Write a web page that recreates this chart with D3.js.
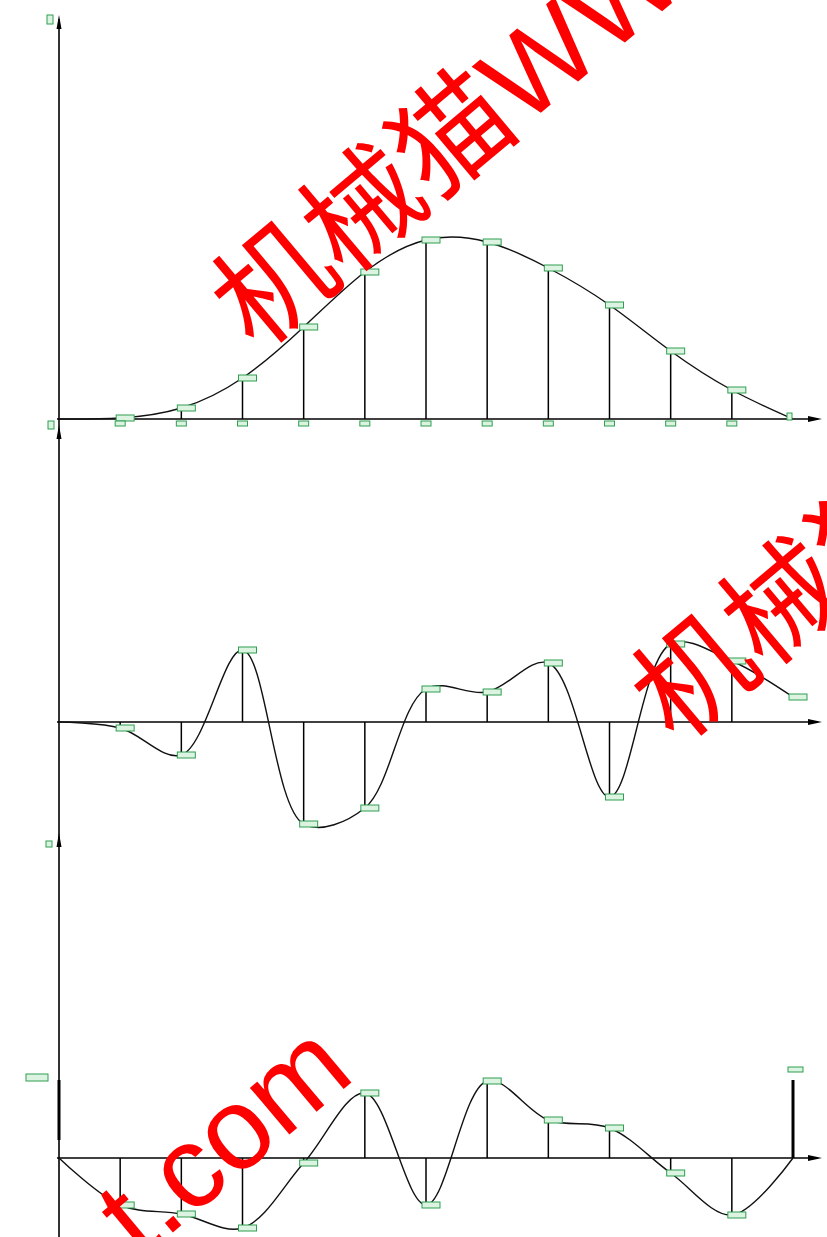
<!DOCTYPE html>
<html lang="zh">
<head>
<meta charset="utf-8">
<title>waves</title>
<script src="https://cdn.jsdelivr.net/npm/d3@7"></script>
<style>
  body { margin: 0; background: #fff; }
  svg { display: block; }
</style>
</head>
<body>
<script>
var w = 827, h = 1237;

// sample points 0..12 along each horizontal axis
var steps = d3.range(13);

// heights (same unit in all three panels)
var wave1 = [0, 1, 11, 41, 92, 147, 179, 177, 151, 114, 68, 29, 0];
var wave2 = [0, -6, -33, 72, -102, -86, 33, 30, 59, -75, 78, 61, 25];
var wave3 = [0, -47, -56, -70, -5, 65, -47, 77, 38, 30, -15, -57, 0];
// the two thick end spikes of the third panel (at step 0 and step 12)
var spikeSteps3 = [0, 12];
var spikes3 = [78, 78];

// watermark texts
var marks = ["机械猫WWW", "机械猫", "t.com"];

var svg = d3.select("body").append("svg")
	.attr("width", w).attr("height", h);

var x = d3.scaleLinear().domain([0, 12]).range([59, 793]);

var panels = [
	{ data: wave1, base: 419, top: 15, bottom: 432, curve: d3.curveNatural },
	{ data: wave2, base: 722, top: 425, bottom: 840, curve: d3.curveCatmullRom.alpha(0.5) },
	{ data: wave3, base: 1158, top: 833, bottom: 1237, curve: d3.curveCatmullRom.alpha(0.5) }
];

var green = "#2e9e50", greenFill = "#dcf3e2";

panels.forEach(function(p, k) {
	var y = d3.scaleLinear().domain([0, 100]).range([p.base, p.base - 100]);
	var g = svg.append("g");

	// vertical axis + arrow
	g.append("line")
		.attr("x1", x(0)).attr("x2", x(0))
		.attr("y1", p.bottom).attr("y2", p.top + 4)
		.attr("stroke", "#000").attr("stroke-width", 1.6);
	g.append("path")
		.attr("d", "M" + (x(0)) + "," + p.top + "l-2.5,14l5,0z")
		.attr("fill", "#000");

	// horizontal axis + arrow
	g.append("line")
		.attr("x1", x(0) - 2).attr("x2", 818)
		.attr("y1", p.base).attr("y2", p.base)
		.attr("stroke", "#000").attr("stroke-width", 1.6);
	g.append("path")
		.attr("d", "M822," + p.base + "l-14,-3l0,6z")
		.attr("fill", "#000");

	// stems
	g.selectAll("line.stem")
		.data(steps.slice(1, 12))
		.enter().append("line")
		.attr("class", "stem")
		.attr("x1", function(d) { return x(d); })
		.attr("x2", function(d) { return x(d); })
		.attr("y1", p.base)
		.attr("y2", function(d) { return y(p.data[d]); })
		.attr("stroke", "#000").attr("stroke-width", 1.5);

	// smooth curve
	var line = d3.line()
		.x(function(d, i) { return x(i); })
		.y(function(d) { return y(d); })
		.curve(p.curve);
	g.append("path")
		.datum(p.data)
		.attr("d", line)
		.attr("fill", "none")
		.attr("stroke", "#111").attr("stroke-width", 1.4);

	// label boxes at the points
	var lab = k == 1 ? steps.slice(1, 13) : steps.slice(1, 12);
	g.selectAll("rect.lab")
		.data(lab)
		.enter().append("rect")
		.attr("class", "lab")
		.attr("x", function(d) { return x(d) - 4; })
		.attr("y", function(d) { return y(p.data[d]) - 3; })
		.attr("width", 18).attr("height", 6)
		.attr("fill", greenFill).attr("stroke", green).attr("stroke-width", 1);

	if (k == 0) {
		// small boxes under the axis
		g.selectAll("rect.tick")
			.data(steps.slice(1, 12))
			.enter().append("rect")
			.attr("class", "tick")
			.attr("x", function(d) { return x(d) - 5; })
			.attr("y", p.base + 2)
			.attr("width", 10).attr("height", 5)
			.attr("fill", greenFill).attr("stroke", green).attr("stroke-width", 1);
		g.append("rect").attr("x", 47).attr("y", 15).attr("width", 6).attr("height", 9)
			.attr("fill", greenFill).attr("stroke", green);
		g.append("rect").attr("x", 48).attr("y", 421).attr("width", 6).attr("height", 8)
			.attr("fill", greenFill).attr("stroke", green);
		g.append("rect").attr("x", x(12) - 6).attr("y", p.base - 6).attr("width", 5).attr("height", 7)
			.attr("fill", greenFill).attr("stroke", green);
	}

	if (k == 2) {
		g.selectAll("line.spike")
			.data(spikeSteps3)
			.enter().append("line")
			.attr("class", "spike")
			.attr("x1", function(d) { return x(d); })
			.attr("x2", function(d) { return x(d); })
			.attr("y1", function(d) { return d == 0 ? p.base - 18 : p.base; })
			.attr("y2", function(d, i) { return y(spikes3[i]); })
			.attr("stroke", "#000").attr("stroke-width", 3);
		g.append("rect").attr("x", 46).attr("y", 841).attr("width", 6).attr("height", 6)
			.attr("fill", greenFill).attr("stroke", green);
		g.append("rect").attr("x", 26).attr("y", 1074).attr("width", 22).attr("height", 7)
			.attr("fill", greenFill).attr("stroke", green);
		g.append("rect").attr("x", x(12) - 5).attr("y", 1067).attr("width", 15).attr("height", 5)
			.attr("fill", greenFill).attr("stroke", green);
	}
});

// red watermarks
var markPos = [[256, 352], [676, 745], [140, 1260]];
svg.selectAll("text.mark")
	.data(marks)
	.enter().append("text")
	.attr("class", "mark")
	.attr("transform", function(d, i) {
		return "translate(" + markPos[i][0] + "," + markPos[i][1] + ") rotate(-40)";
	})
	.attr("font-family", "'Liberation Sans', 'Noto Sans CJK SC', sans-serif")
	.attr("font-size", "116px")
	.attr("fill", "#ff0000")
	.text(function(d) { return d; });
</script>
</body>
</html>
